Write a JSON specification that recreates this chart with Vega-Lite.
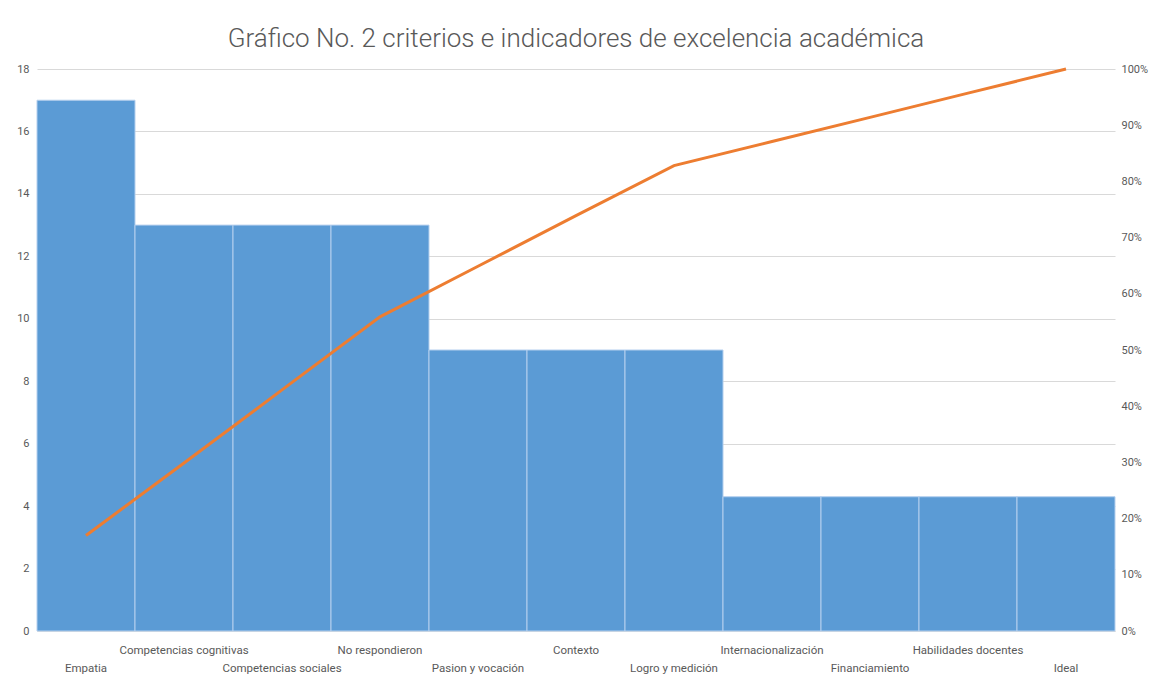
{
  "$schema": "https://vega.github.io/schema/vega-lite/v6.json",
  "autosize": {"type": "none"},
  "width": 1078,
  "height": 562,
  "padding": {"left": 37, "top": 69, "right": 35, "bottom": 57},
  "background": "#ffffff",
  "title": {
    "text": "Gráfico No. 2 criterios e indicadores de excelencia académica",
    "font": "Roboto, Liberation Sans, sans-serif",
    "fontSize": 26,
    "fontWeight": 300,
    "color": "#595959",
    "offset": 11,
    "anchor": "middle"
  },
  "data": {
    "values": [
      {"criterio": "Empatia", "frecuencia": 17, "acumulado": 0.170},
      {"criterio": "Competencias cognitivas", "frecuencia": 13, "acumulado": 0.299},
      {"criterio": "Competencias sociales", "frecuencia": 13, "acumulado": 0.429},
      {"criterio": "No respondieron", "frecuencia": 13, "acumulado": 0.559},
      {"criterio": "Pasion y vocación", "frecuencia": 9, "acumulado": 0.649},
      {"criterio": "Contexto", "frecuencia": 9, "acumulado": 0.739},
      {"criterio": "Logro y medición", "frecuencia": 9, "acumulado": 0.828},
      {"criterio": "Internacionalización", "frecuencia": 4.3, "acumulado": 0.871},
      {"criterio": "Financiamiento", "frecuencia": 4.3, "acumulado": 0.914},
      {"criterio": "Habilidades docentes", "frecuencia": 4.3, "acumulado": 0.957},
      {"criterio": "Ideal", "frecuencia": 4.3, "acumulado": 1.0}
    ]
  },
  "encoding": {
    "x": {
      "field": "criterio",
      "type": "nominal",
      "sort": null,
      "scale": {"paddingInner": 0, "paddingOuter": 0},
      "axis": {
        "title": null,
        "labelAngle": 0,
        "ticks": false,
        "domain": true,
        "domainColor": "#d9d9d9",
        "labelFont": "Roboto, Liberation Sans, sans-serif",
        "labelFontSize": 11.5,
        "labelColor": "#595959",
        "labelPadding": {
          "condition": {
            "test": "indexof(['Empatia','Competencias sociales','Pasion y vocación','Logro y medición','Financiamiento','Ideal'], datum.value) >= 0",
            "value": 31
          },
          "value": 13
        },
        "labelOverlap": false,
        "labelLimit": 300
      }
    }
  },
  "layer": [
    {
      "mark": {"type": "bar", "color": "#5b9bd5", "stroke": "#b4cfee", "strokeWidth": 1},
      "encoding": {
        "y": {
          "field": "frecuencia",
          "type": "quantitative",
          "scale": {"domain": [0, 18]},
          "axis": {
            "title": null,
            "values": [0, 2, 4, 6, 8, 10, 12, 14, 16, 18],
            "ticks": false,
            "domain": false,
            "grid": true,
            "gridColor": "#d9d9d9",
            "labelFont": "Roboto, Liberation Sans, sans-serif",
            "labelFontSize": 11,
            "labelColor": "#595959",
            "labelPadding": 8
          }
        }
      }
    },
    {
      "mark": {"type": "line", "color": "#ed7d31", "strokeWidth": 3},
      "encoding": {
        "y": {
          "field": "acumulado",
          "type": "quantitative",
          "scale": {"domain": [0, 1]},
          "axis": {
            "title": null,
            "orient": "right",
            "format": ".0%",
            "values": [0, 0.1, 0.2, 0.3, 0.4, 0.5, 0.6, 0.7, 0.8, 0.9, 1.0],
            "ticks": false,
            "domain": false,
            "grid": false,
            "labelFont": "Roboto, Liberation Sans, sans-serif",
            "labelFontSize": 11,
            "labelColor": "#595959",
            "labelPadding": 6
          }
        }
      }
    }
  ],
  "resolve": {"scale": {"y": "independent"}},
  "config": {"view": {"stroke": null}}
}
